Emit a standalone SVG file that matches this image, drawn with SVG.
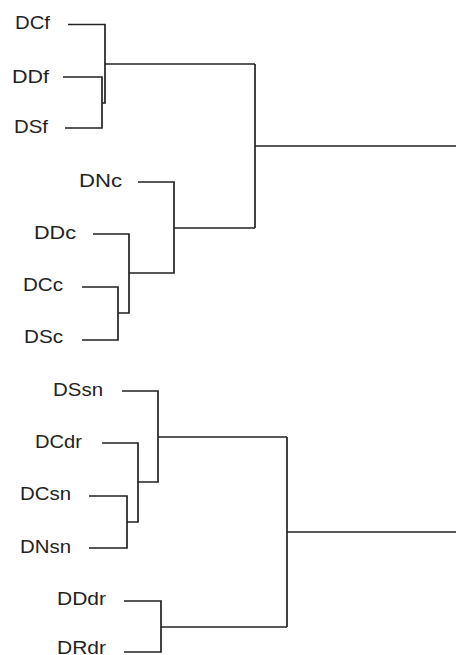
<svg xmlns="http://www.w3.org/2000/svg" width="456" height="655" viewBox="0 0 456 655">
  <style>
    .leaf text { font-family: "Liberation Sans", Arial, sans-serif; font-size: 18px; fill: #222; }
    .links path { fill: none; stroke: #222; stroke-width: 1.7; stroke-linejoin: miter; stroke-linecap: butt; }
  </style>
  <rect width="456" height="655" fill="#fff"/>

  <!-- leaf labels -->
  <g id="DCf" class="leaf"><text x="15" y="29" textLength="35" lengthAdjust="spacingAndGlyphs">DCf</text></g>
  <g id="DDf" class="leaf"><text x="12" y="83" textLength="37" lengthAdjust="spacingAndGlyphs">DDf</text></g>
  <g id="DSf" class="leaf"><text x="14" y="133" textLength="34" lengthAdjust="spacingAndGlyphs">DSf</text></g>
  <g id="DNc" class="leaf"><text x="79" y="187" textLength="43" lengthAdjust="spacingAndGlyphs">DNc</text></g>
  <g id="DDc" class="leaf"><text x="34" y="239" textLength="42" lengthAdjust="spacingAndGlyphs">DDc</text></g>
  <g id="DCc" class="leaf"><text x="23" y="291" textLength="40" lengthAdjust="spacingAndGlyphs">DCc</text></g>
  <g id="DSc" class="leaf"><text x="24" y="343" textLength="39" lengthAdjust="spacingAndGlyphs">DSc</text></g>
  <g id="DSsn" class="leaf"><text x="53" y="396" textLength="50" lengthAdjust="spacingAndGlyphs">DSsn</text></g>
  <g id="DCdr" class="leaf"><text x="35" y="448" textLength="47" lengthAdjust="spacingAndGlyphs">DCdr</text></g>
  <g id="DCsn" class="leaf"><text x="20" y="500" textLength="51" lengthAdjust="spacingAndGlyphs">DCsn</text></g>
  <g id="DNsn" class="leaf"><text x="20" y="553" textLength="51" lengthAdjust="spacingAndGlyphs">DNsn</text></g>
  <g id="DDdr" class="leaf"><text x="57" y="605" textLength="49" lengthAdjust="spacingAndGlyphs">DDdr</text></g>
  <g id="DRdr" class="leaf"><text x="57" y="654" textLength="49" lengthAdjust="spacingAndGlyphs">DRdr</text></g>

  <!-- dendrogram branches -->
  <g id="connectors" class="links">
    <!-- f cluster -->
    <path d="M68 24.5 H105 V103 H102"/>
    <path d="M63 77 H102 V128 H65"/>
    <path d="M105 64 H255"/>
    <!-- c cluster -->
    <path d="M138 182 H174 V273 H129"/>
    <path d="M93 234 H129 V313 H118"/>
    <path d="M82 287 H118 V340 H82"/>
    <path d="M174 228 H255"/>
    <!-- upper root -->
    <path d="M255 64 V228"/>
    <path d="M255 146 H456"/>
    <!-- sn / dr cluster -->
    <path d="M122 391 H158 V482 H138"/>
    <path d="M102 443 H138 V522 H127"/>
    <path d="M89 496 H127 V548 H89"/>
    <path d="M158 437 H287"/>
    <path d="M124 601 H161 V652 H124"/>
    <path d="M161 627 H287"/>
    <!-- lower root -->
    <path d="M287 437 V627"/>
    <path d="M287 532 H456"/>
  </g>
</svg>
